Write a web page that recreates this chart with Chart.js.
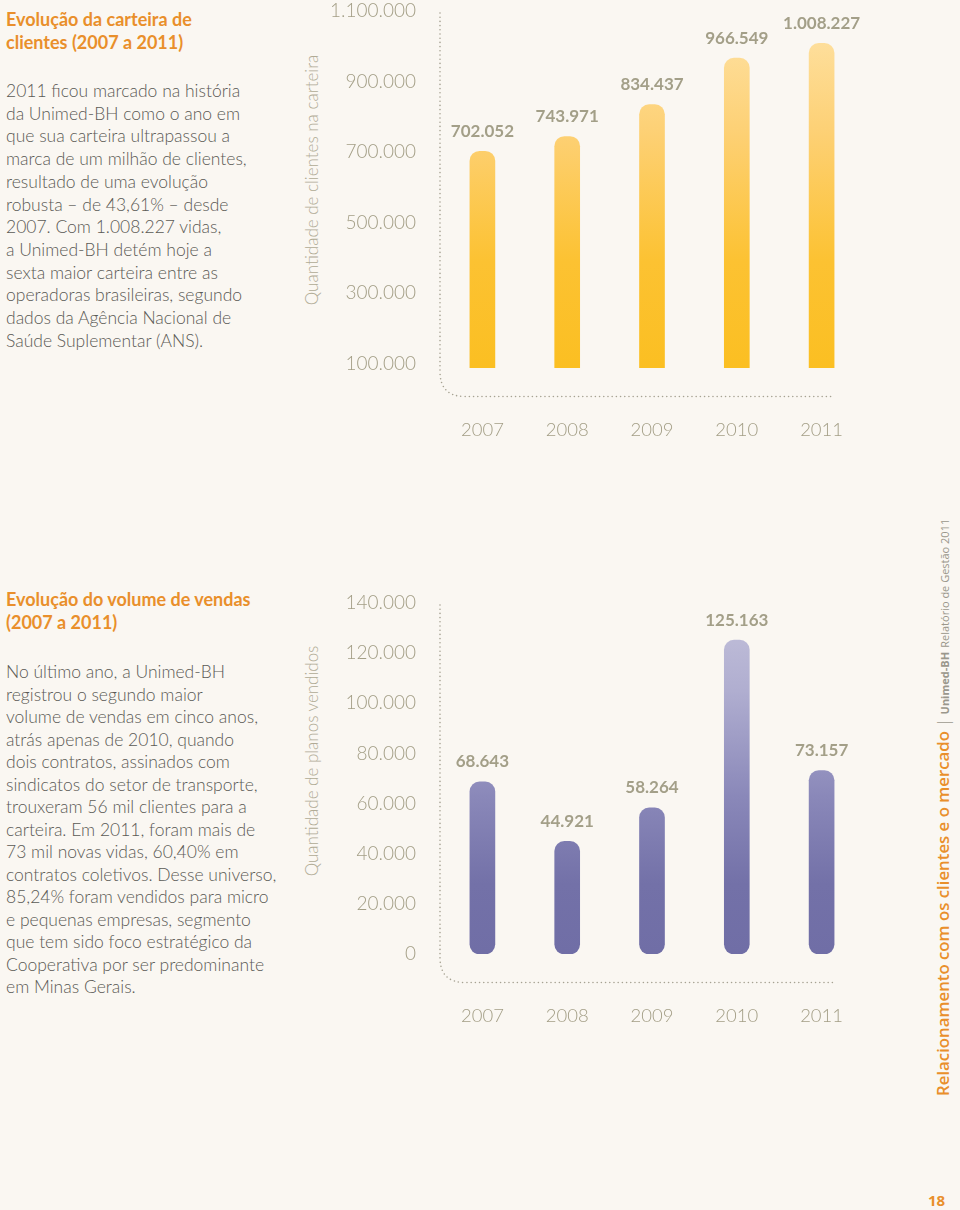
<!DOCTYPE html>
<html>
<head>
<meta charset="utf-8">
<script src="https://cdn.jsdelivr.net/npm/chart.js@4"></script>
<style>
  html, body { margin:0; padding:0; }
  body { width:960px; height:1210px; background:#faf7f2; position:relative; overflow:hidden; font-family:'Lato', sans-serif; }
  .title { position:absolute; left:6px; color:#e98f2b; font-weight:700; font-size:18px; line-height:23px; }
  .body { position:absolute; left:6px; color:#5b5a55; font-weight:300; font-size:17.5px; line-height:22.7px; white-space:nowrap; }
  .ytitle { position:absolute; color:#b0ab95; font-weight:300; font-size:17px; white-space:nowrap; transform:translate(-50%,-50%) rotate(-90deg); }
  .chartbox { position:absolute; left:290px; }
  .side { position:absolute; left:933px; top:1096px; transform-origin:0 0; transform:rotate(-90deg); white-space:nowrap; line-height:20px; font-family:'Open Sans', sans-serif; }
  .side .o { color:#e98f2b; font-weight:600; font-size:16.8px; }
  .side .g { color:#9a978c; font-size:11px; }
  .side .gb { color:#9a978c; font-size:11px; font-weight:700; }
  .side .bar { color:#9a978c; font-size:16px; font-weight:300; margin:0 4px; }
  .pnum { position:absolute; left:928px; top:1190px; color:#e98f2b; font-weight:700; font-size:15px; font-family:'Open Sans', sans-serif; }
</style>
</head>
<body>
<div class="title" style="top:8px;">Evolução da carteira de<br>clientes (2007 a 2011)</div>
<div class="body" style="top:80px;">2011 ficou marcado na história<br>da Unimed-BH como o ano em<br>que sua carteira ultrapassou a<br>marca de um milhão de clientes,<br>resultado de uma evolução<br>robusta – de 43,61% – desde<br>2007. Com 1.008.227 vidas,<br>a Unimed-BH detém hoje a<br>sexta maior carteira entre as<br>operadoras brasileiras, segundo<br>dados da Agência Nacional de<br>Saúde Suplementar (ANS).</div>

<div class="title" style="top:588px;">Evolução do volume de vendas<br>(2007 a 2011)</div>
<div class="body" style="top:661px; line-height:22.5px;">No último ano, a Unimed-BH<br>registrou o segundo maior<br>volume de vendas em cinco anos,<br>atrás apenas de 2010, quando<br>dois contratos, assinados com<br>sindicatos do setor de transporte,<br>trouxeram 56 mil clientes para a<br>carteira. Em 2011, foram mais de<br>73 mil novas vidas, 60,40% em<br>contratos coletivos. Desse universo,<br>85,24% foram vendidos para micro<br>e pequenas empresas, segmento<br>que tem sido foco estratégico da<br>Cooperativa por ser predominante<br>em Minas Gerais.</div>

<div class="ytitle" style="left:311px; top:180px;">Quantidade de clientes na carteira</div>
<div class="ytitle" style="left:311px; top:761px;">Quantidade de planos vendidos</div>

<div class="chartbox" style="top:0px; width:590px; height:450px;"><canvas id="c1"></canvas></div>
<div class="chartbox" style="top:580px; width:590px; height:460px;"><canvas id="c2"></canvas></div>

<div class="side"><span class="o">Relacionamento com os clientes e o mercado</span><span class="bar">|</span><span class="gb">Unimed-BH</span> <span class="g">Relatório de Gestão 2011</span></div>
<div class="pnum">18</div>

<script>
// ---- data ----
const years = ['2007', '2008', '2009', '2010', '2011'];
const carteira = [702052, 743971, 834437, 966549, 1008227];
const vendas = [68643, 44921, 58264, 125163, 73157];
const carteiraTicks = [100000, 300000, 500000, 700000, 900000, 1100000];
const vendasTicks = [0, 20000, 40000, 60000, 80000, 100000, 120000, 140000];

function fmt(v) {
  return String(v).replace(/\B(?=(\d{3})+(?!\d))/g, '.');
}

Chart.defaults.font.family = 'Lato, sans-serif';

const valueLabels = {
  id: 'valueLabels',
  afterDatasetsDraw(chart) {
    const ctx = chart.ctx;
    const meta = chart.getDatasetMeta(0);
    const data = chart.data.datasets[0].data;
    ctx.save();
    ctx.fillStyle = '#a39f88';
    ctx.font = 'bold 17px Lato, sans-serif';
    ctx.textAlign = 'center';
    ctx.textBaseline = 'middle';
    meta.data.forEach((bar, i) => {
      ctx.fillText(fmt(data[i]), bar.x, bar.y - 20);
    });
    ctx.restore();
  }
};

const dottedAxis = {
  id: 'dottedAxis',
  beforeDatasetsDraw(chart) {
    const ca = chart.chartArea;
    const ctx = chart.ctx;
    const meta = chart.getDatasetMeta(0);
    const last = meta.data[meta.data.length - 1];
    const xEnd = last.x + last.width / 2;
    const x0 = ca.left;
    const yTop = ca.top + 2;
    const yH = ca.bottom + 28.5;
    const r = 25;
    ctx.save();
    ctx.strokeStyle = '#a6a292';
    ctx.lineWidth = 1.6;
    ctx.lineCap = 'round';
    ctx.setLineDash([0, 4.2]);
    ctx.beginPath();
    ctx.moveTo(x0, yTop);
    ctx.lineTo(x0, yH - r);
    ctx.quadraticCurveTo(x0, yH, x0 + r, yH);
    ctx.lineTo(xEnd, yH);
    ctx.stroke();
    ctx.restore();
  }
};

function gradient(stops) {
  return function(context) {
    const chart = context.chart;
    const ca = chart.chartArea;
    if (!ca) return stops[stops.length - 1][1];
    const g = chart.ctx.createLinearGradient(0, ca.top, 0, ca.bottom);
    stops.forEach(s => g.addColorStop(s[0], s[1]));
    return g;
  };
}

function makeChart(id, values, ticks, yMin, yMax, pad, colorStops) {
  return new Chart(document.getElementById(id), {
    type: 'bar',
    data: {
      labels: years,
      datasets: [{
        data: values,
        backgroundColor: gradient(colorStops),
        barThickness: 25,
        borderRadius: 10,
        borderSkipped: false
      }]
    },
    options: {
      responsive: true,
      maintainAspectRatio: false,
      animation: false,
      layout: { padding: pad },
      plugins: { legend: { display: false }, tooltip: { enabled: false } },
      scales: {
        x: {
          offset: true,
          grid: { display: false, drawTicks: false },
          border: { display: false },
          afterFit: (s) => { s.height = 73; s.paddingLeft = 0; s.paddingRight = 0; },
          ticks: { color: '#a39e86', font: { size: 18.5, weight: '300' }, padding: 51, maxRotation: 0, minRotation: 0, autoSkip: false }
        },
        y: {
          min: yMin,
          max: yMax,
          grid: { display: false, drawTicks: false },
          border: { display: false },
          afterBuildTicks: (scale) => { scale.ticks = ticks.map(v => ({ value: v })); },
          afterFit: (scale) => { scale.width = 150; scale.paddingTop = 0; scale.paddingBottom = 0; },
          ticks: {
            color: '#a39e86',
            font: { size: 19, weight: '300' },
            padding: 24,
            callback: (v) => fmt(v)
          }
        }
      }
    },
    plugins: [dottedAxis, valueLabels]
  });
}

makeChart('c1', carteira, carteiraTicks, 87000, 1100000,
  { top: 11, bottom: 9, left: 0, right: 16 },
  [[0, '#fee3a8'], [0.35, '#fdd073'], [0.7, '#fcc232'], [1, '#fbbf22']]);

makeChart('c2', vendas, vendasTicks, 0, 140000,
  { top: 23, bottom: 13, left: 0, right: 16 },
  [[0, '#c4c2db'], [0.25, '#b0aed0'], [0.55, '#8a88b9'], [0.8, '#7371a8'], [1, '#706ea6']]);
</script>
</body>
</html>
